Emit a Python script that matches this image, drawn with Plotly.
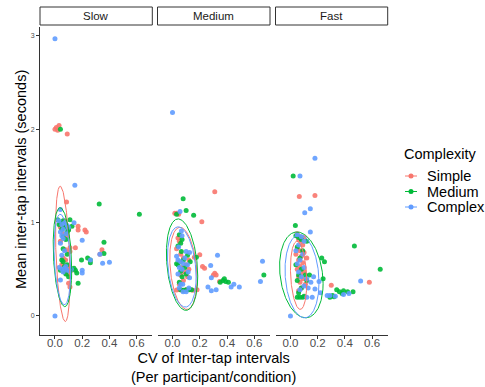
import numpy as np
import plotly.graph_objects as go

# ---------------- data ----------------
speeds = ["Slow", "Medium", "Fast"]
complexities = ["Simple", "Medium", "Complex"]
colors = ["#F8766D", "#00BA38", "#619CFF"]

x_ticks = [0, 0.2, 0.4, 0.6]
x_tick_labels = ["0.0", "0.2", "0.4", "0.6"]
y_ticks = [0, 1, 2, 3]
y_tick_labels = ["0", "1", "2", "3"]

x_title = "CV of Inter-tap intervals<br>(Per participant/condition)"
y_title = "Mean inter-tap intervals (seconds)"
legend_title = "Complexity"

# (CV, mean ITI) pairs per speed / complexity
slow_simple = [(0.00, 2.00), (0.01, 2.02), (0.02, 1.99), (0.03, 2.04), (0.09, 1.95), (0.085, 1.22),
               (0.07, 1.02), (0.06, 0.99), (0.05, 1.00), (0.08, 0.97), (0.04, 0.95), (0.10, 0.93),
               (0.17, 0.96), (0.17, 0.92), (0.22, 0.92), (0.23, 0.90), (0.09, 0.86), (0.06, 0.88),
               (0.15, 0.73), (0.11, 0.73), (0.11, 0.69), (0.078, 0.71), (0.078, 0.60), (0.345, 0.71),
               (0.33, 0.66), (0.05, 0.55), (0.08, 0.52), (0.10, 0.50), (0.12, 0.49), (0.07, 0.47),
               (0.09, 0.45), (0.11, 0.52), (0.10, 0.35), (0.11, 0.31), (0.06, 0.62), (0.04, 0.80)]
slow_medium = [(0.04, 2.00), (0.325, 1.20), (0.62, 1.09), (0.02, 1.03), (0.04, 1.00), (0.06, 1.02),
               (0.11, 1.03), (0.125, 0.96), (0.08, 0.95), (0.05, 0.93), (0.09, 0.90), (0.07, 0.97),
               (0.03, 0.98), (0.10, 0.92), (0.06, 0.85), (0.08, 0.82), (0.36, 0.79), (0.36, 0.67),
               (0.24, 0.62), (0.26, 0.60), (0.26, 0.57), (0.195, 0.60), (0.17, 0.35), (0.10, 0.42),
               (0.15, 0.49), (0.16, 0.46), (0.07, 0.53), (0.07, 0.48), (0.05, 0.60), (0.06, 0.58),
               (0.09, 0.55), (0.12, 0.50), (0.14, 0.51), (0.04, 0.49), (0.08, 0.45), (0.06, 0.72),
               (0.09, 0.66)]
slow_complex = [(0.00, 2.97), (0.0, 0.0), (0.146, 1.40), (0.04, 1.14), (0.14, 1.00), (0.03, 1.02),
                (0.05, 0.98), (0.07, 1.00), (0.09, 0.97), (0.06, 0.93), (0.04, 0.90), (0.08, 0.88),
                (0.10, 0.95), (0.05, 0.86), (0.20, 0.81), (0.33, 0.66), (0.35, 0.565), (0.40, 0.575),
                (0.26, 0.60), (0.20, 0.49), (0.20, 0.46), (0.04, 0.385), (0.03, 0.52), (0.05, 0.50),
                (0.07, 0.51), (0.09, 0.49), (0.11, 0.48), (0.06, 0.47), (0.08, 0.53), (0.12, 0.50),
                (0.05, 0.65), (0.07, 0.70), (0.04, 0.78), (0.06, 0.83)]

medium_simple = [(0.31, 1.33), (0.215, 1.01), (0.017, 1.10), (0.03, 1.10), (0.045, 1.09), (0.04, 0.835),
                 (0.05, 0.80), (0.03, 0.72), (0.20, 0.655), (0.22, 0.53), (0.235, 0.51), (0.31, 0.457),
                 (0.32, 0.44), (0.345, 0.37), (0.30, 0.44), (0.06, 0.66), (0.08, 0.62), (0.05, 0.58),
                 (0.10, 0.55), (0.07, 0.52), (0.12, 0.50), (0.09, 0.47), (0.06, 0.44), (0.11, 0.42),
                 (0.08, 0.38), (0.05, 0.34), (0.03, 0.277), (0.05, 0.28), (0.07, 0.275), (0.10, 0.28),
                 (0.13, 0.28), (0.15, 0.275), (0.18, 0.28), (0.12, 0.60), (0.16, 0.63)]
medium_medium = [(0.078, 1.257), (0.10, 1.13), (0.155, 1.08), (0.03, 1.09), (0.05, 0.87), (0.07, 0.82),
                 (0.06, 0.78), (0.065, 0.69), (0.04, 0.75), (0.67, 0.44), (0.37, 0.38), (0.39, 0.37),
                 (0.41, 0.36), (0.35, 0.36), (0.38, 0.40), (0.175, 0.63), (0.03, 0.56), (0.04, 0.55),
                 (0.08, 0.60), (0.09, 0.52), (0.06, 0.48), (0.10, 0.45), (0.07, 0.42), (0.05, 0.36),
                 (0.06, 0.28), (0.08, 0.275), (0.10, 0.28), (0.12, 0.28), (0.14, 0.28), (0.11, 0.65),
                 (0.13, 0.58)]
medium_complex = [(0.0, 2.18), (0.055, 1.12), (0.065, 0.91), (0.07, 0.86), (0.045, 0.74), (0.10, 0.69),
                  (0.125, 0.68), (0.33, 0.65), (0.28, 0.54), (0.285, 0.41), (0.26, 0.31), (0.285, 0.27),
                  (0.32, 0.28), (0.45, 0.34), (0.49, 0.31), (0.43, 0.31), (0.66, 0.585), (0.645, 0.37),
                  (0.125, 0.41), (0.115, 0.47), (0.078, 0.26), (0.10, 0.26), (0.06, 0.34), (0.075, 0.34),
                  (0.04, 0.60), (0.06, 0.58), (0.08, 0.56), (0.05, 0.52), (0.07, 0.50), (0.09, 0.62),
                  (0.03, 0.64), (0.11, 0.55), (0.05, 0.30), (0.12, 0.30), (0.04, 0.45)]

fast_simple = [(0.065, 1.28), (0.18, 1.29), (0.30, 0.33), (0.58, 0.36), (0.05, 0.88), (0.07, 0.85),
               (0.06, 0.82), (0.08, 0.80), (0.09, 0.76), (0.05, 0.72), (0.07, 0.70), (0.10, 0.68),
               (0.08, 0.64), (0.06, 0.60), (0.09, 0.57), (0.07, 0.53), (0.05, 0.50), (0.10, 0.48),
               (0.08, 0.45), (0.06, 0.42), (0.09, 0.40), (0.07, 0.36), (0.11, 0.34), (0.08, 0.30),
               (0.06, 0.27), (0.12, 0.62), (0.04, 0.66), (0.10, 0.84)]
fast_medium = [(0.02, 1.50), (0.036, 0.97), (0.47, 0.75), (0.66, 0.50), (0.23, 0.62), (0.25, 0.58),
               (0.24, 0.40), (0.34, 0.28), (0.36, 0.26), (0.39, 0.27), (0.42, 0.26), (0.46, 0.26),
               (0.32, 0.205), (0.29, 0.20), (0.31, 0.22), (0.38, 0.24), (0.05, 0.20), (0.07, 0.20),
               (0.09, 0.20), (0.10, 0.21), (0.12, 0.38), (0.04, 0.86), (0.06, 0.84), (0.08, 0.82),
               (0.12, 0.80), (0.05, 0.74), (0.09, 0.70), (0.07, 0.62), (0.04, 0.55), (0.08, 0.50),
               (0.06, 0.44), (0.11, 0.44), (0.14, 0.44), (0.05, 0.38), (0.08, 0.30), (0.06, 0.25)]
fast_complex = [(0.18, 1.69), (0.07, 1.50), (0.146, 1.15), (0.105, 1.105), (0.146, 0.90), (0.516, 0.374),
                (0.0, 0.0), (0.29, 0.22), (0.33, 0.21), (0.39, 0.23), (0.43, 0.24), (0.18, 0.29),
                (0.22, 0.25), (0.16, 0.20), (0.12, 0.20), (0.21, 0.37), (0.27, 0.22), (0.05, 0.87),
                (0.08, 0.85), (0.10, 0.80), (0.06, 0.76), (0.04, 0.70), (0.09, 0.66), (0.07, 0.60),
                (0.05, 0.56), (0.10, 0.52), (0.06, 0.47), (0.08, 0.42), (0.12, 0.40), (0.15, 0.36),
                (0.10, 0.32), (0.07, 0.28), (0.13, 0.30), (0.17, 0.42)]

points = {
    "Slow": [slow_simple, slow_medium, slow_complex],
    "Medium": [medium_simple, medium_medium, medium_complex],
    "Fast": [fast_simple, fast_medium, fast_complex],
}

# 95% ellipse summaries: centre CV, centre mean, half-width CV, half-height mean, correlation
ellipse_slow = [(0.057, 0.665, 0.053, 0.725, -0.35), (0.055, 0.63, 0.068, 0.53, -0.25),
                (0.054, 0.605, 0.061, 0.485, -0.25)]
ellipse_medium = [(0.08, 0.51, 0.10, 0.44, -0.25), (0.070, 0.55, 0.115, 0.49, -0.25),
                  (0.068, 0.525, 0.105, 0.43, -0.25)]
ellipse_fast = [(0.06, 0.435, 0.06, 0.365, -0.2), (0.08, 0.44, 0.16, 0.46, -0.2),
                (0.085, 0.425, 0.125, 0.445, -0.15)]
ellipses = {"Slow": ellipse_slow, "Medium": ellipse_medium, "Fast": ellipse_fast}

# ---------------- figure ----------------
W, H = 485, 387
FONT = "Liberation Sans, Arial, Helvetica, sans-serif"
panels_px = [(40, 152.3), (157.5, 270.0), (275.5, 387.7)]
panel_top, panel_bot = 27, 335
ydom = [1 - panel_bot / H, 1 - panel_top / H]

fig = go.Figure()
t = np.linspace(0, 2 * np.pi, 241)
for i, speed in enumerate(speeds):
    sfx = "" if i == 0 else str(i + 1)
    for j, comp in enumerate(complexities):
        pts = points[speed][j]
        fig.add_trace(go.Scatter(
            x=[p[0] for p in pts], y=[p[1] for p in pts], mode="markers",
            marker=dict(color=colors[j], size=5, opacity=0.9, line=dict(width=0)),
            xaxis="x" + sfx, yaxis="y" + sfx, showlegend=False, name=comp))
    for j, comp in enumerate(complexities):
        cx, cy, hx, hy, rho = ellipses[speed][j]
        ex = cx + hx * np.cos(t)
        ey = cy + hy * (rho * np.cos(t) + np.sqrt(1 - rho ** 2) * np.sin(t))
        fig.add_trace(go.Scatter(
            x=ex, y=ey, mode="lines", line=dict(color=colors[j], width=1),
            xaxis="x" + sfx, yaxis="y" + sfx, showlegend=False, name=comp, hoverinfo="skip"))

layout = dict(
    width=W, height=H, margin=dict(l=0, r=0, t=0, b=0),
    paper_bgcolor="white", plot_bgcolor="white", showlegend=False,
    font=dict(family=FONT, color="#000000"),
)
shapes = []
annotations = []
for i, speed in enumerate(speeds):
    sfx = "" if i == 0 else str(i + 1)
    x0, x1 = panels_px[i]
    layout["xaxis" + sfx] = dict(
        domain=[x0 / W, x1 / W], range=[-0.11, 0.715], anchor="y" + sfx,
        tickvals=x_ticks, ticktext=x_tick_labels, ticks="outside", ticklen=3,
        tickcolor="#333333", tickwidth=1, showline=True, linecolor="#333333", linewidth=1,
        showgrid=False, zeroline=False, tickfont=dict(size=11.5, color="#4d4d4d", family=FONT),
        ticklabelstandoff=-6, fixedrange=True)
    ycfg = dict(domain=ydom, range=[-0.204, 3.096], anchor="x" + sfx, showgrid=False,
                zeroline=False, fixedrange=True)
    if i == 0:
        ycfg.update(tickvals=y_ticks, ticktext=y_tick_labels, ticks="outside", ticklen=3,
                    tickcolor="#333333", tickwidth=1, showline=True, linecolor="#333333",
                    linewidth=1, tickfont=dict(size=7, color="#4d4d4d", family=FONT))
    else:
        ycfg.update(showline=False, showticklabels=False, ticks="")
    layout["yaxis" + sfx] = ycfg
    # strip
    shapes.append(dict(type="rect", xref="paper", yref="paper", x0=x0 / W, x1=x1 / W,
                       y0=1 - 25 / H, y1=1 - 7 / H, line=dict(color="#333333", width=1),
                       fillcolor="white", layer="below"))
    annotations.append(dict(text=speed, xref="paper", yref="paper", x=(x0 + x1) / 2 / W,
                            y=1 - 16 / H, showarrow=False, xanchor="center", yanchor="middle",
                            font=dict(size=11.5, color="#1a1a1a", family=FONT)))

# axis titles
annotations.append(dict(text=y_title, xref="paper", yref="paper", x=21 / W, y=1 - 180 / H,
                        textangle=-90, showarrow=False, xanchor="center", yanchor="middle",
                        font=dict(size=14.5, color="#000000", family=FONT)))
annotations.append(dict(text=x_title, xref="paper", yref="paper", x=213.5 / W, y=1 - 367.5 / H,
                        showarrow=False, xanchor="center", yanchor="middle",
                        font=dict(size=14.5, color="#000000", family=FONT)))

# legend
annotations.append(dict(text=legend_title, xref="paper", yref="paper", x=402 / W, y=1 - 154 / H,
                        showarrow=False, xanchor="left", yanchor="middle",
                        font=dict(size=14.5, color="#000000", family=FONT)))
for j, comp in enumerate(complexities):
    yy = 176 + 15.5 * j
    shapes.append(dict(type="line", xref="paper", yref="paper", x0=405 / W, x1=417 / W,
                       y0=1 - yy / H, y1=1 - yy / H, line=dict(color=colors[j], width=1)))
    shapes.append(dict(type="circle", xref="paper", yref="paper", x0=408.5 / W, x1=413.5 / W,
                       y0=1 - (yy + 2.5) / H, y1=1 - (yy - 2.5) / H,
                       line=dict(color=colors[j], width=0), fillcolor=colors[j]))
    annotations.append(dict(text=comp, xref="paper", yref="paper", x=425 / W, y=1 - yy / H,
                            showarrow=False, xanchor="left", yanchor="middle",
                            font=dict(size=14.5, color="#000000", family=FONT)))

layout["shapes"] = shapes
layout["annotations"] = annotations
fig.update_layout(**layout)
fig.write_html("out.html")
